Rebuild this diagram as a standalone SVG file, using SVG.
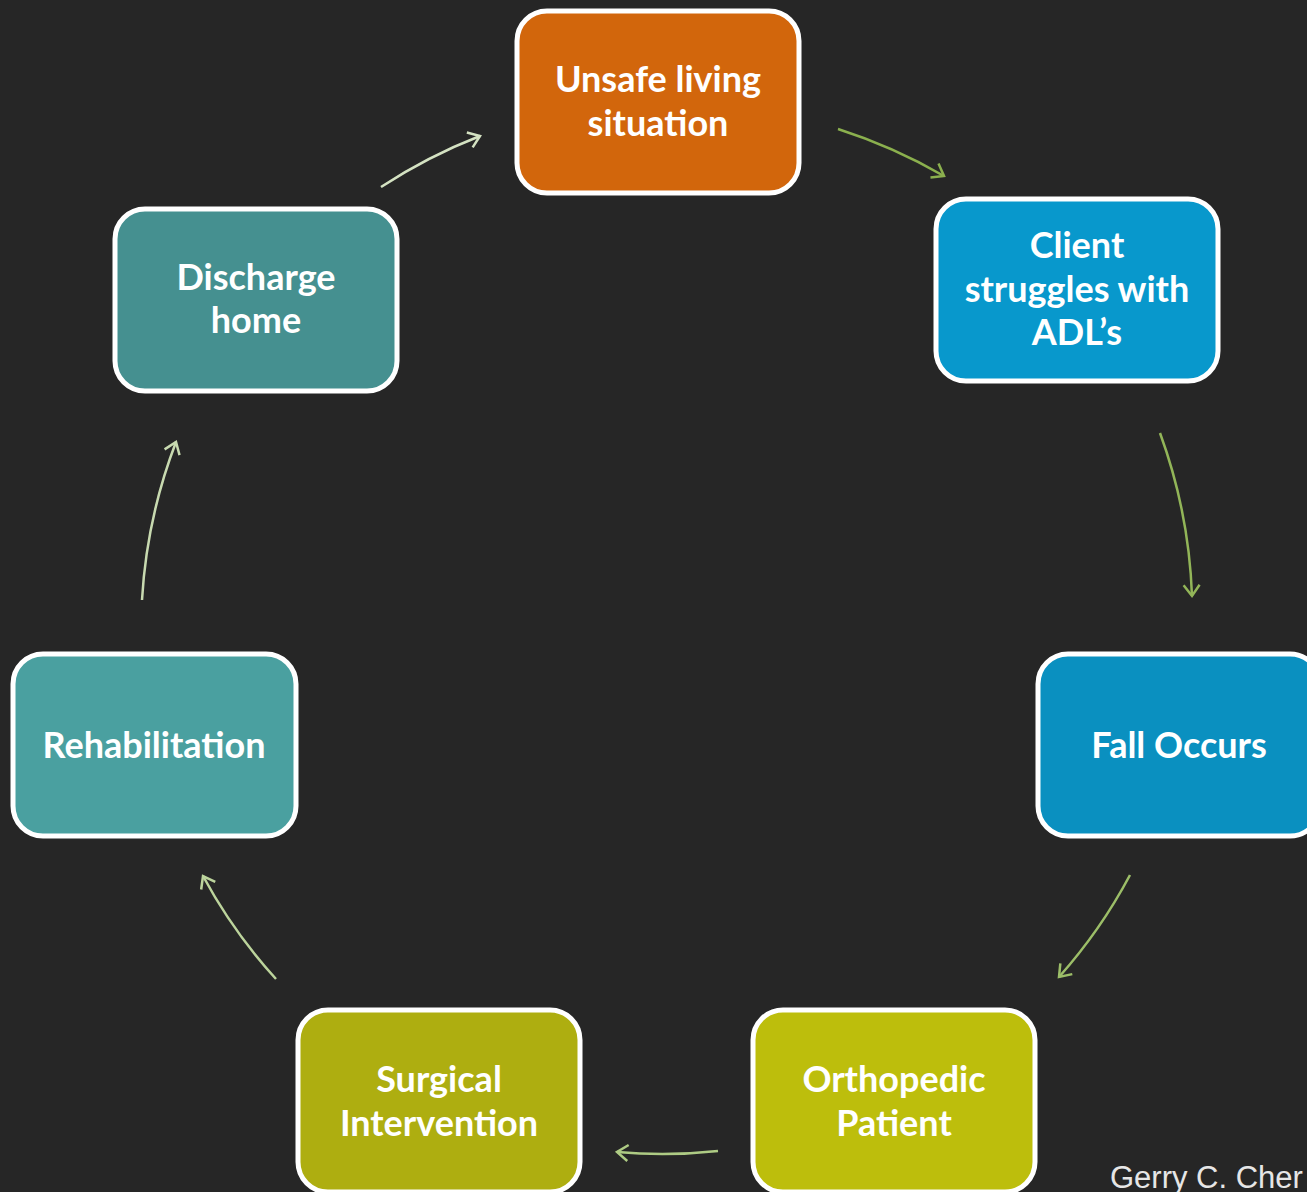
<svg xmlns="http://www.w3.org/2000/svg" width="1307" height="1192" viewBox="0 0 1307 1192">
<style>
.box{stroke:#ffffff;stroke-width:5}
.lbl{font-family:Lato,"Open Sans","Liberation Sans",sans-serif;font-weight:bold;font-size:36px;fill:#ffffff;text-anchor:middle}
.arr{fill:none;stroke-width:2.5}
.foot{font-family:"Liberation Sans",Arial,sans-serif;font-size:31px;fill:#e6e6e6}
</style>
<defs>
<marker id="m1" markerUnits="userSpaceOnUse" markerWidth="24" markerHeight="24" viewBox="-12 -12 24 24" refX="0" refY="0" orient="auto"><path d="M-11,-8 L0,0 L-11,8" fill="none" stroke="#8bb04e" stroke-width="2.5"/></marker>
<marker id="m2" markerUnits="userSpaceOnUse" markerWidth="24" markerHeight="24" viewBox="-12 -12 24 24" refX="0" refY="0" orient="auto"><path d="M-11,-8 L0,0 L-11,8" fill="none" stroke="#92b558" stroke-width="2.5"/></marker>
<marker id="m3" markerUnits="userSpaceOnUse" markerWidth="24" markerHeight="24" viewBox="-12 -12 24 24" refX="0" refY="0" orient="auto"><path d="M-11,-8 L0,0 L-11,8" fill="none" stroke="#9cbe68" stroke-width="2.5"/></marker>
<marker id="m4" markerUnits="userSpaceOnUse" markerWidth="24" markerHeight="24" viewBox="-12 -12 24 24" refX="0" refY="0" orient="auto"><path d="M-11,-8 L0,0 L-11,8" fill="none" stroke="#aecb84" stroke-width="2.5"/></marker>
<marker id="m5" markerUnits="userSpaceOnUse" markerWidth="24" markerHeight="24" viewBox="-12 -12 24 24" refX="0" refY="0" orient="auto"><path d="M-11,-8 L0,0 L-11,8" fill="none" stroke="#bcd49c" stroke-width="2.5"/></marker>
<marker id="m6" markerUnits="userSpaceOnUse" markerWidth="24" markerHeight="24" viewBox="-12 -12 24 24" refX="0" refY="0" orient="auto"><path d="M-11,-8 L0,0 L-11,8" fill="none" stroke="#c8dab0" stroke-width="2.5"/></marker>
<marker id="m7" markerUnits="userSpaceOnUse" markerWidth="24" markerHeight="24" viewBox="-12 -12 24 24" refX="0" refY="0" orient="auto"><path d="M-11,-8 L0,0 L-11,8" fill="none" stroke="#d4e2c2" stroke-width="2.5"/></marker>
</defs>
<rect width="1307" height="1192" fill="#262626"/>
<g id="connectors">
<path class="arr" stroke="#8bb04e" marker-end="url(#m1)" d="M838,129 A540,540 0 0,1 944,176"/>
<path class="arr" stroke="#92b558" marker-end="url(#m2)" d="M1160,433 A530,530 0 0,1 1192,596"/>
<path class="arr" stroke="#9cbe68" marker-end="url(#m3)" d="M1130,875 A520,520 0 0,1 1059,977"/>
<path class="arr" stroke="#aecb84" marker-end="url(#m4)" d="M718,1151 A514,514 0 0,1 617,1152"/>
<path class="arr" stroke="#bcd49c" marker-end="url(#m5)" d="M276,979 A518,518 0 0,1 203,876"/>
<path class="arr" stroke="#c8dab0" marker-end="url(#m6)" d="M142,600 A526,526 0 0,1 176,442"/>
<path class="arr" stroke="#d4e2c2" marker-end="url(#m7)" d="M381,187 A536,536 0 0,1 480,136"/>
</g>
<g id="n1">
<rect class="box" x="517" y="11" width="282" height="182" rx="30" fill="#d2660c"/>
<text class="lbl" x="658" y="92">Unsafe living</text>
<text class="lbl" x="658" y="136">situation</text>
</g>
<g id="n2">
<rect class="box" x="936" y="199" width="282" height="182" rx="30" fill="#0898cc"/>
<text class="lbl" x="1077" y="258">Client</text>
<text class="lbl" x="1077" y="302">struggles with</text>
<text class="lbl" x="1077" y="345">ADL’s</text>
</g>
<g id="n3">
<rect class="box" x="1038" y="654" width="282" height="182" rx="30" fill="#0a90c0"/>
<text class="lbl" x="1179" y="758">Fall Occurs</text>
</g>
<g id="n4">
<rect class="box" x="753" y="1010" width="282" height="182" rx="30" fill="#bdbe0c"/>
<text class="lbl" x="894" y="1092">Orthopedic</text>
<text class="lbl" x="894" y="1136">Patient</text>
</g>
<g id="n5">
<rect class="box" x="298" y="1010" width="282" height="182" rx="30" fill="#aeae10"/>
<text class="lbl" x="439" y="1092">Surgical</text>
<text class="lbl" x="439" y="1136">Intervention</text>
</g>
<g id="n6">
<rect class="box" x="13" y="654" width="283" height="182" rx="30" fill="#4aa0a0"/>
<text class="lbl" x="154" y="758">Rehabilitation</text>
</g>
<g id="n7">
<rect class="box" x="115" y="209" width="282" height="182" rx="30" fill="#459090"/>
<text class="lbl" x="256" y="290">Discharge</text>
<text class="lbl" x="256" y="333">home</text>
</g>
<text class="foot" x="1110" y="1188">Gerry C. Cher</text>
</svg>
